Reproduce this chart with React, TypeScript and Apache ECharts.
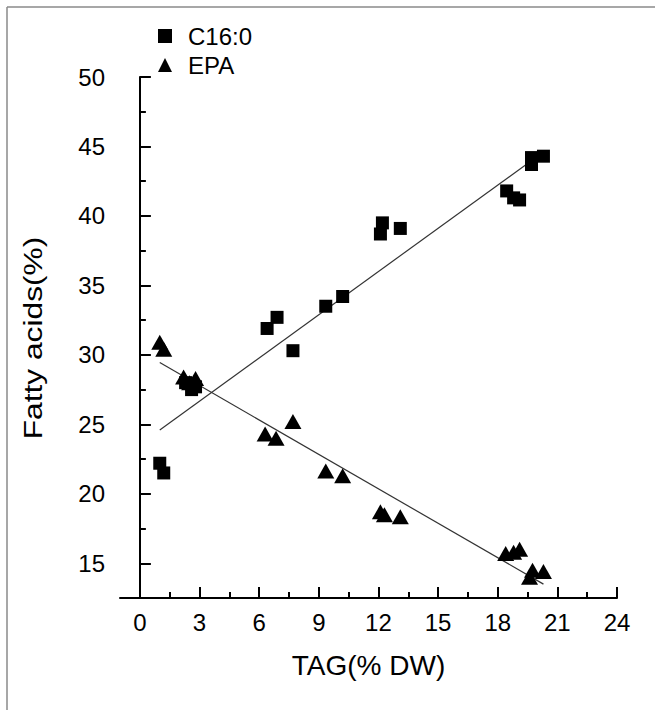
import React, { useEffect, useRef } from "react";
import * as echarts from "echarts";

// C16:0 (squares)
const c16X = [1.0, 1.2, 2.3, 2.6, 2.8, 6.4, 6.9, 7.7, 9.35, 10.2, 12.1, 12.2, 13.1, 18.45, 18.8, 19.1, 19.7, 19.7, 20.3];
const c16Y = [22.2, 21.5, 28.0, 27.5, 27.7, 31.9, 32.7, 30.3, 33.5, 34.2, 38.7, 39.5, 39.1, 41.8, 41.3, 41.15, 44.2, 43.7, 44.3];

// EPA (triangles)
const epaX = [1.0, 1.2, 2.2, 2.5, 2.8, 6.3, 6.85, 7.7, 9.35, 10.2, 12.1, 12.3, 13.1, 18.4, 18.8, 19.1, 19.6, 19.75, 20.3];
const epaY = [30.9, 30.4, 28.4, 28.0, 28.3, 24.3, 24.0, 25.2, 21.65, 21.3, 18.7, 18.5, 18.35, 15.7, 15.8, 16.0, 14.0, 14.5, 14.4];

// Linear fit line endpoints
const fitX = [1.0, 20.3];
const c16Fit = [24.6, 44.6];
const epaFit = [29.45, 13.5];

// Axis ticks
const xMajor = [0, 3, 6, 9, 12, 15, 18, 21, 24];
const xMinor = [1.5, 4.5, 7.5, 10.5, 13.5, 16.5, 19.5, 22.5];
const yMajor = [15, 20, 25, 30, 35, 40, 45, 50];
const yMinor = [17.5, 22.5, 27.5, 32.5, 37.5, 42.5, 47.5];

const FONT = "'Liberation Sans', Arial, sans-serif";

export default function App() {
  const ref = useRef<HTMLDivElement>(null);
  useEffect(() => {
    if (!ref.current) return;
    const chart = echarts.init(ref.current, undefined, { renderer: "svg" });
    const pts = (xs: number[], ys: number[]) => xs.map((x, i) => [x, ys[i]]);
    const black = "#000";
    chart.setOption({
      animation: false,
      backgroundColor: "#fff",
      textStyle: { fontFamily: FONT },
      grid: { left: 120, right: 38, top: 77, bottom: 112, containLabel: false, outerBoundsMode: "none" },
      legend: {
        orient: "vertical",
        left: 153,
        top: 19,
        itemWidth: 14,
        itemHeight: 14,
        itemGap: 5,
        data: ["C16:0", "EPA"],
        textStyle: { fontSize: 24, color: black, fontFamily: FONT, padding: [0, 0, 0, 11] },
      },
      xAxis: [
        {
          type: "value",
          min: -1,
          max: 24,
          position: "bottom",
          axisLine: { show: true, lineStyle: { color: black, width: 2 } },
          axisTick: { show: true, inside: true, length: 11, lineStyle: { color: black, width: 2 }, customValues: xMajor },
          axisLabel: { customValues: xMajor, fontSize: 24, color: black, margin: 12, fontFamily: FONT },
          splitLine: { show: false },
          name: "TAG(% DW)",
          nameLocation: "middle",
          nameGap: 53,
          nameTextStyle: { fontSize: 28, color: black, fontFamily: FONT },
        },
        {
          type: "value",
          min: -1,
          max: 24,
          position: "bottom",
          offset: 0,
          axisLine: { show: false },
          axisTick: { show: true, inside: true, length: 6, lineStyle: { color: black, width: 2 }, customValues: xMinor },
          axisLabel: { show: false },
          splitLine: { show: false },
        },
      ],
      yAxis: [
        {
          type: "value",
          min: 12.5,
          max: 50,
          position: "left",
          axisLine: { show: true, lineStyle: { color: black, width: 2 } },
          axisTick: { show: true, inside: true, length: 11, lineStyle: { color: black, width: 2 }, customValues: yMajor },
          axisLabel: { customValues: yMajor, fontSize: 24, color: black, margin: 15, fontFamily: FONT },
          splitLine: { show: false },
        },
        {
          type: "value",
          min: 12.5,
          max: 50,
          position: "left",
          offset: 0,
          axisLine: { show: false },
          axisTick: { show: true, inside: true, length: 6, lineStyle: { color: black, width: 2 }, customValues: yMinor },
          axisLabel: { show: false },
          splitLine: { show: false },
        },
      ],
      graphic: [
        { type: "line", shape: { x1: 7, y1: 7, x2: 655, y2: 7 }, style: { stroke: "#8a8a8a", lineWidth: 1.5 }, silent: true },
        { type: "line", shape: { x1: 7, y1: 7, x2: 7, y2: 710 }, style: { stroke: "#8a8a8a", lineWidth: 1.5 }, silent: true },
        {
          type: "text",
          x: 33,
          y: 338,
          rotation: Math.PI / 2,
          scaleX: 1.22,
          silent: true,
          style: {
            text: "Fatty acids(%)",
            fontSize: 26,
            fontFamily: FONT,
            fill: black,
            align: "center",
            verticalAlign: "middle",
          },
        },
      ],
      series: [
        {
          name: "C16:0 fit",
          type: "line",
          data: pts(fitX, c16Fit),
          symbol: "none",
          lineStyle: { color: "#333", width: 1.2 },
          z: 1,
        },
        {
          name: "EPA fit",
          type: "line",
          data: pts(fitX, epaFit),
          symbol: "none",
          lineStyle: { color: "#333", width: 1.2 },
          z: 1,
        },
        {
          name: "C16:0",
          type: "scatter",
          data: pts(c16X, c16Y),
          symbol: "rect",
          symbolSize: 13,
          itemStyle: { color: black, opacity: 1 },
          z: 3,
        },
        {
          name: "EPA",
          type: "scatter",
          data: pts(epaX, epaY),
          symbol: "triangle",
          symbolSize: [17, 15],
          itemStyle: { color: black, opacity: 1 },
          z: 4,
        },
      ],
    });
    return () => chart.dispose();
  }, []);
  return (
    <div
      ref={ref}
      style={{ position: "fixed", left: 0, top: 0, width: 655, height: 710, background: "#fff" }}
    />
  );
}
